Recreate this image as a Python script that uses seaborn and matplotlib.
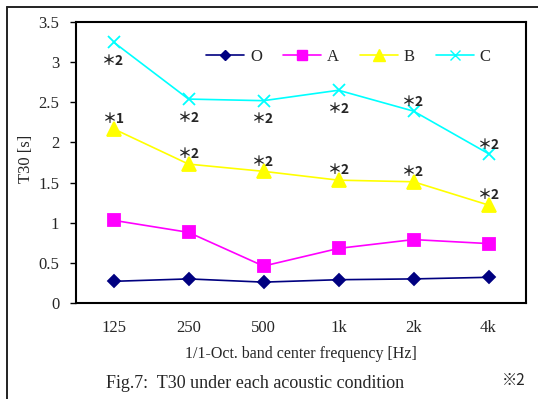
import matplotlib
matplotlib.use("Agg")
import matplotlib.pyplot as plt
from matplotlib.lines import Line2D
import seaborn as sns
import pandas as pd

# Octave band centre frequencies
bands = ["125", "250", "500", "1k", "2k", "4k"]

# Reverberation time T30 [s] for each acoustic condition
t30_O = [0.27, 0.30, 0.26, 0.29, 0.30, 0.32]
t30_A = [1.03, 0.88, 0.46, 0.68, 0.79, 0.74]
t30_B = [2.17, 1.73, 1.64, 1.53, 1.51, 1.22]
t30_C = [3.25, 2.54, 2.52, 2.65, 2.39, 1.86]

conditions = ["O", "A", "B", "C"]

# Significance marks placed next to points of conditions B and C
marks_B = ["＊1", "＊2", "＊2", "＊2", "＊2", "＊2"]
marks_C = ["＊2", "＊2", "＊2", "＊2", "＊2", "＊2"]
marks_C_side = ["below", "below", "below", "below", "above", "above"]

y_ticks = [0, 0.5, 1, 1.5, 2, 2.5, 3, 3.5]
y_tick_labels = ["0", "0.5", "1", "1.5", "2", "2.5", "3", "3.5"]

sns.set_theme(style="white")
plt.rcParams["font.family"] = ["Liberation Serif", "DejaVu Serif"]

rows = []
for cond, vals in zip(conditions, [t30_O, t30_A, t30_B, t30_C]):
    for i, v in enumerate(vals):
        rows.append({"band": i, "T30": v, "cond": cond})
df = pd.DataFrame(rows)

palette = {"O": "#000080", "A": "#FF00FF", "B": "#FFFF00", "C": "#00FFFF"}
markers = {"O": "D", "A": "s", "B": "^", "C": "x"}
sizes = {"O": 6.5, "A": 8.5, "B": 9.5, "C": 9}

fig = plt.figure(figsize=(5.38, 3.99), dpi=100)
ax = fig.add_axes([76 / 538, 1 - 303 / 399, 450 / 538, 281 / 399])

for cond in conditions:
    sub = df[df["cond"] == cond]
    sns.lineplot(data=sub, x="band", y="T30", ax=ax, color=palette[cond],
                 marker=markers[cond], markersize=sizes[cond],
                 markeredgecolor=palette[cond], markeredgewidth=1.3,
                 linewidth=1.2, label=cond, legend=False)

ax.set_xlim(-0.5, 5.5)
ax.set_ylim(0, 3.5)
ax.set_xticks(range(len(bands)))
ax.set_xticklabels(bands, fontsize=12)
ax.set_xticks([i + 0.5 for i in range(len(bands) - 1)], minor=True)
ax.tick_params(axis="x", which="major", length=0, pad=12)
ax.tick_params(axis="x", which="minor", direction="in", length=4, width=1, color="black")
ax.set_yticks(y_ticks)
ax.set_yticklabels(y_tick_labels, fontsize=12)
ax.tick_params(axis="y", which="major", direction="out", length=4, width=1,
               color="black", left=True, pad=8)

for sp in ax.spines.values():
    sp.set_color("black")
    sp.set_linewidth(1.5)

ax.set_xlabel("1/1-Oct. band center frequency [Hz]", fontsize=11.5)
ax.xaxis.set_label_coords(0.5, -(346 - 303) / 281)
ax.set_ylabel("T30 [s]", fontsize=12)
ax.yaxis.set_label_coords(-(76 - 34) / 450, (303 - 159) / 281)

# Significance marks
mark_font = ["Noto Sans CJK JP", "DejaVu Sans"]
for i, (v, m) in enumerate(zip(t30_B, marks_B)):
    ax.annotate(m, (i, v), xytext=(0, 7), textcoords="offset points",
                ha="center", va="center", fontsize=10, fontweight="bold",
                family=mark_font)
for i, (v, m, side) in enumerate(zip(t30_C, marks_C, marks_C_side)):
    dy = -13.5 if side == "below" else 6.5
    ax.annotate(m, (i, v), xytext=(0, dy), textcoords="offset points",
                ha="center", va="center", fontsize=10, fontweight="bold",
                family=mark_font)

handles = [Line2D([], [], color=palette[c], marker=markers[c],
                  markersize=sizes[c] * 0.85, markeredgecolor=palette[c],
                  linewidth=1.2) for c in conditions]
ax.legend(handles, conditions, ncol=4, frameon=False, loc="center",
          bbox_to_anchor=(0.605, 0.875), fontsize=12, handlelength=2.3,
          handletextpad=0.35, columnspacing=1.25)

fig.text(255 / 538, 1 - 383 / 399, "Fig.7:  T30 under each acoustic condition",
         ha="center", va="center", fontsize=13)
fig.text(514 / 538, 1 - 380 / 399, "※2", ha="center", va="center",
         fontsize=11, family=["Noto Sans CJK JP", "DejaVu Sans"])

# Surrounding frame of the figure panel
fig.add_artist(Line2D([6.5 / 538, 6.5 / 538], [0, 1 - 7 / 399],
                      transform=fig.transFigure, color="#222222", linewidth=1.4))
fig.add_artist(Line2D([6.5 / 538, 1], [1 - 7 / 399, 1 - 7 / 399],
                      transform=fig.transFigure, color="#222222", linewidth=1.4))

fig.savefig("out.png", dpi=100)
